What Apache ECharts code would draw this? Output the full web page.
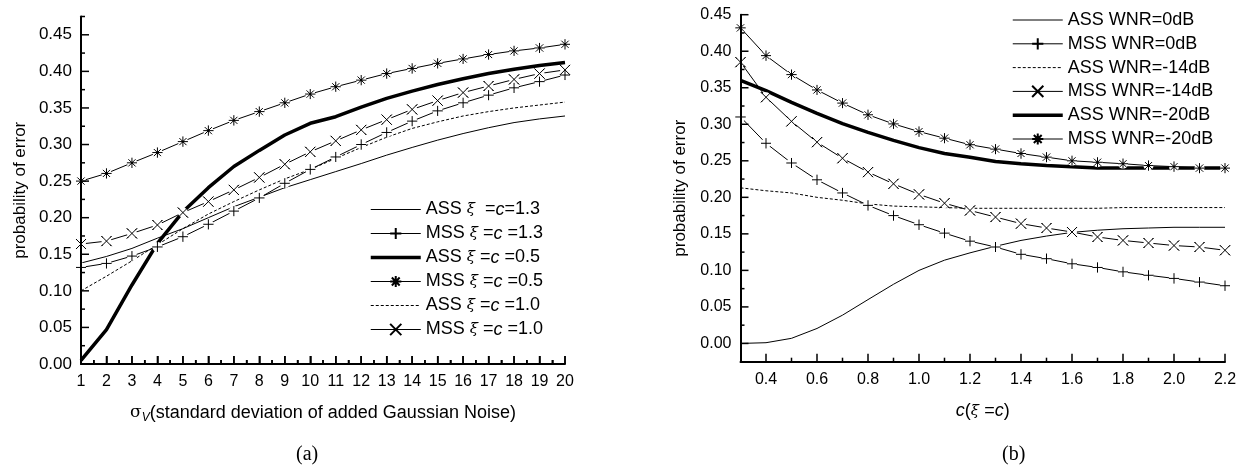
<!DOCTYPE html>
<html><head><meta charset="utf-8">
<script src="https://cdn.jsdelivr.net/npm/echarts@6/dist/echarts.min.js"></script>
<style>html,body{margin:0;padding:0;background:#fff}#c{width:1247px;height:472px}</style>
</head><body><div id="c"></div>
<script>
// ---------- data (a) ----------
const sigma = [1,2,3,4,5,6,7,8,9,10,11,12,13,14,15,16,17,18,19,20];
const assC13 = [0.138,0.147,0.158,0.172,0.185,0.200,0.215,0.228,0.241,0.252,0.263,0.274,0.2855,0.296,0.306,0.315,0.323,0.330,0.335,0.339];
const mssC13 = [0.132,0.1375,0.1475,0.160,0.174,0.191,0.209,0.227,0.247,0.266,0.283,0.300,0.3165,0.332,0.346,0.357,0.3675,0.3775,0.386,0.395];
const assC05 = [0.005,0.047,0.108,0.165,0.208,0.241,0.270,0.292,0.313,0.329,0.338,0.351,0.363,0.373,0.382,0.390,0.397,0.403,0.408,0.412];
const mssC05 = [0.250,0.2605,0.275,0.289,0.304,0.319,0.333,0.345,0.357,0.369,0.379,0.388,0.397,0.404,0.411,0.417,0.423,0.428,0.432,0.437];
const assC10 = [0.100,0.120,0.141,0.163,0.185,0.205,0.222,0.238,0.253,0.266,0.281,0.296,0.310,0.322,0.331,0.339,0.345,0.350,0.354,0.358];
const mssC10 = [0.164,0.168,0.1785,0.190,0.207,0.222,0.238,0.255,0.273,0.290,0.305,0.320,0.334,0.348,0.360,0.371,0.380,0.389,0.397,0.402];
const legendA = [
  '{n|ASS }{g|ξ}{n|  =}{i|c}{n|=1.3}',
  '{n|MSS }{g|ξ}{n| =}{i|c}{n| =1.3}',
  '{n|ASS }{g|ξ}{n| =}{i|c}{n| =0.5}',
  '{n|MSS }{g|ξ}{n| =}{i|c}{n| =0.5}',
  '{n|ASS }{g|ξ}{n| =}{i|c}{n| =1.0}',
  '{n|MSS }{g|ξ}{n| =}{i|c}{n| =1.0}'
];
const xTicksA = [1,2,3,4,5,6,7,8,9,10,11,12,13,14,15,16,17,18,19,20];
const xMinorA = [1.5,2.5,3.5,4.5,5.5,6.5,7.5,8.5,9.5,10.5,11.5,12.5,13.5,14.5,15.5,16.5,17.5,18.5,19.5];
const yTicksA = [0,0.05,0.10,0.15,0.20,0.25,0.30,0.35,0.40,0.45];
const yMinorA = [0.025,0.075,0.125,0.175,0.225,0.275,0.325,0.375,0.425,0.475];

// ---------- data (b) ----------
const cVal = [0.3,0.4,0.5,0.6,0.7,0.8,0.9,1.0,1.1,1.2,1.3,1.4,1.5,1.6,1.7,1.8,1.9,2.0,2.1,2.2];
const ass0  = [0.000,0.001,0.007,0.0205,0.0387,0.060,0.081,0.100,0.114,0.124,0.133,0.141,0.147,0.152,0.155,0.157,0.158,0.159,0.159,0.159];
const mss0  = [0.310,0.274,0.247,0.224,0.206,0.189,0.175,0.1625,0.151,0.140,0.132,0.122,0.116,0.109,0.104,0.098,0.0933,0.089,0.084,0.079];
const ass14 = [0.213,0.209,0.206,0.200,0.196,0.191,0.188,0.187,0.186,0.185,0.185,0.185,0.185,0.185,0.185,0.186,0.186,0.186,0.186,0.186];
const mss14 = [0.385,0.337,0.304,0.2755,0.2535,0.2345,0.2185,0.204,0.192,0.182,0.173,0.164,0.158,0.1525,0.1457,0.141,0.1375,0.134,0.132,0.1275];
const ass20 = [0.360,0.346,0.330,0.315,0.301,0.289,0.278,0.268,0.260,0.255,0.249,0.246,0.2435,0.242,0.240,0.240,0.240,0.240,0.240,0.240];
const mss20 = [0.432,0.394,0.368,0.347,0.329,0.313,0.3005,0.290,0.281,0.272,0.266,0.260,0.255,0.250,0.248,0.246,0.2435,0.242,0.240,0.240];
const legendB = ['ASS WNR=0dB','MSS WNR=0dB','ASS WNR=-14dB','MSS WNR=-14dB','ASS WNR=-20dB','MSS WNR=-20dB'];
const xTicksB = [0.4,0.6,0.8,1.0,1.2,1.4,1.6,1.8,2.0,2.2];
const xMinorB = [0.5,0.7,0.9,1.1,1.3,1.5,1.7,1.9,2.1];
const yTicksB = [0,0.05,0.10,0.15,0.20,0.25,0.30,0.35,0.40,0.45];
const yMinorB = [0.025,0.075,0.125,0.175,0.225,0.275,0.325,0.375,0.425];

// ---------- helpers ----------
const FONT = 'Liberation Sans, Arial, sans-serif';
const PLUS = 'path://M5,0L5,10M0,5L10,5';
const CROSS = 'path://M0,0L10,10M10,0L0,10';
const STAR = 'path://M5,0L5,10M0,5L10,5M1.5,1.5L8.5,8.5M8.5,1.5L1.5,8.5M4.4,4.4L5.6,4.4L5.6,5.6L4.4,5.6Z';
const zip = (xs, ys) => xs.map((x, i) => [x, ys[i]]);

const series = [];
const legendItems = [[], []];
function addCurve(name, xs, ys, xi, yi, kind, glyph, li) {
  const data = zip(xs, ys);
  const s = {
    name, type: 'line', xAxisIndex: xi, yAxisIndex: yi, data,
    animation: false, z: 2, smooth: false,
    lineStyle: { color: '#000', width: 1, type: 'solid' },
    itemStyle: { color: 'rgba(0,0,0,0)', borderColor: 'rgba(0,0,0,0)', borderWidth: 1 },
    symbol: 'circle', symbolSize: 1, showSymbol: false
  };
  if (kind === 'thick') s.lineStyle.width = 3.5;
  if (kind === 'dash') s.lineStyle.type = [3, 2];
  legendItems[li].push({ name, lineStyle: { color: '#000', width: s.lineStyle.width, type: s.lineStyle.type } });
  if (glyph) {
    s.symbol = glyph; s.showSymbol = true; s.symbolSize = 10;
    s.itemStyle = { color: 'rgba(0,0,0,0)', borderColor: '#000', borderWidth: 1 };
    series.push(s);
    series.push({ name: name + '_gap', type: 'scatter', xAxisIndex: xi, yAxisIndex: yi, data,
      symbol: 'circle', symbolSize: 10, itemStyle: { color: '#fff', opacity: 1 }, z: 3, silent: true, animation: false });
    series.push({ name: name + '_mk', type: 'scatter', xAxisIndex: xi, yAxisIndex: yi, data,
      symbol: glyph, symbolSize: 10,
      itemStyle: { color: 'rgba(0,0,0,0)', borderColor: '#000', borderWidth: 1, opacity: 1 }, z: 4, silent: true, animation: false });
  } else {
    series.push(s);
  }
}
addCurve('A0', sigma, assC13, 0, 0, 'thin', null, 0);
addCurve('A1', sigma, mssC13, 0, 0, 'thin', PLUS, 0);
addCurve('A2', sigma, assC05, 0, 0, 'thick', null, 0);
addCurve('A3', sigma, mssC05, 0, 0, 'thin', STAR, 0);
addCurve('A4', sigma, assC10, 0, 0, 'dash', null, 0);
addCurve('A5', sigma, mssC10, 0, 0, 'thin', CROSS, 0);
addCurve('B0', cVal, ass0, 1, 1, 'thin', null, 1);
addCurve('B1', cVal, mss0, 1, 1, 'thin', PLUS, 1);
addCurve('B2', cVal, ass14, 1, 1, 'dash', null, 1);
addCurve('B3', cVal, mss14, 1, 1, 'thin', CROSS, 1);
addCurve('B4', cVal, ass20, 1, 1, 'thick', null, 1);
addCurve('B5', cVal, mss20, 1, 1, 'thin', STAR, 1);

const axLine = () => ({ show: true, onZero: false, lineStyle: { color: '#000', width: 2 } });
const lab = (fs, m) => ({ show: true, color: '#000', fontFamily: FONT, fontSize: fs, margin: m });
const rich = {
  n: { fontFamily: FONT, fontSize: 18, color: '#000' },
  i: { fontFamily: FONT, fontSize: 18, fontStyle: 'italic', color: '#000' },
  g: { fontFamily: 'DejaVu Serif', fontSize: 15, fontStyle: 'italic', color: '#000' },
  s: { fontFamily: 'DejaVu Serif', fontSize: 17, color: '#000' },
  sub: { fontFamily: FONT, fontSize: 12, fontStyle: 'italic', color: '#000', padding: [10, 0, 0, 0] }
};
const panelLabels = [
  { type: 'text', left: 296, top: 445, style: { text: '(a)', font: '20px "Liberation Serif"', fill: '#000' } },
  { type: 'text', left: 1002, top: 445, style: { text: '(b)', font: '20px "Liberation Serif"', fill: '#000' } }
];

const option = {
  backgroundColor: '#fff',
  animation: false,
  grid: [
    { left: 81, top: 16.5, width: 484, height: 347.5 },
    { left: 740.5, top: 14.7, width: 484.5, height: 347 }
  ],
  xAxis: [
    { gridIndex: 0, type: 'value', min: 1, max: 20, interval: 1, position: 'bottom', z: 10,
      axisLine: axLine(), axisTick: { show: true, inside: true, length: 8, lineStyle: { color: '#000', width: 1.5 } },
      minorTick: { show: true, splitNumber: 2, length: 4, lineStyle: { color: '#000', width: 1.5 } },
      splitLine: { show: false }, minorSplitLine: { show: false },
      axisLabel: lab(16, 10),
      name: '{s|σ}{sub|V}{n|(standard deviation of added Gaussian Noise)}',
      nameLocation: 'middle', nameGap: 38, nameTextStyle: { rich } },
    { gridIndex: 1, type: 'value', min: 0.3, max: 2.2, interval: 0.1, position: 'bottom', z: 10,
      axisLine: axLine(), axisTick: { show: false },
      splitLine: { show: false },
      axisLabel: Object.assign(lab(16, 10), { customValues: xTicksB, formatter: v => v.toFixed(1) }),
      name: '{i|c}{n|(}{g|ξ}{n| =}{i|c}{n|)}',
      nameLocation: 'middle', nameGap: 40, nameTextStyle: { rich } }
  ],
  yAxis: [
    { gridIndex: 0, type: 'value', min: 0, max: 0.475, interval: 0.025, position: 'left', z: 10,
      axisLine: axLine(), axisTick: { show: false },
      splitLine: { show: false },
      axisLabel: Object.assign(lab(17, 9), { customValues: yTicksA, formatter: v => v.toFixed(2) }),
      name: 'probability of error', nameLocation: 'middle', nameGap: 52,
      nameTextStyle: { color: '#000', fontFamily: FONT, fontSize: 17 } },
    { gridIndex: 1, type: 'value', min: -0.025, max: 0.45, interval: 0.025, position: 'left', z: 10,
      axisLine: axLine(), axisTick: { show: false },
      splitLine: { show: false },
      axisLabel: Object.assign(lab(16, 9), { customValues: yTicksB, formatter: v => v.toFixed(2) }),
      name: 'probability of error', nameLocation: 'middle', nameGap: 52,
      nameTextStyle: { color: '#000', fontFamily: FONT, fontSize: 17 } }
  ],
  legend: [
    { data: legendItems[0], orient: 'vertical', left: 364, top: 194.5,
      itemWidth: 50, itemHeight: 14, itemGap: 4,
      formatter: n => legendA[+n[1]],
      textStyle: { rich, lineHeight: 20, fontSize: 18 } },
    { data: legendItems[1], orient: 'vertical', left: 1006, top: 5,
      itemWidth: 50, itemHeight: 14, itemGap: 3.8,
      formatter: n => legendB[+n[1]],
      textStyle: { color: '#000', fontFamily: FONT, fontSize: 18, lineHeight: 20 } }
  ],
  graphic: panelLabels,
  series
};
const chart = echarts.init(document.getElementById('c'), null, { renderer: 'canvas' });
chart.setOption(option);

// inside ticks, positioned through the chart's own axis scales
const tickEls = [];
function addTicks(gridIndex, dir, values, fixed, len) {
  values.forEach(v => {
    const p = chart.convertToPixel({ gridIndex }, dir === 'x' ? [v, fixed] : [fixed, v]);
    if (!p) return;
    const shape = dir === 'x'
      ? { x1: p[0], y1: p[1], x2: p[0], y2: p[1] - len }
      : { x1: p[0], y1: p[1], x2: p[0] + len, y2: p[1] };
    tickEls.push({ type: 'line', shape, style: { stroke: '#000', lineWidth: 1.5 }, z: 100, silent: true });
  });
}
addTicks(0, 'x', xTicksA, 0, 8);
addTicks(0, 'x', xMinorA, 0, 4);
addTicks(0, 'y', yTicksA, 1, 8);
addTicks(0, 'y', yMinorA, 1, 4);
addTicks(1, 'x', xTicksB, -0.025, 8);
addTicks(1, 'x', xMinorB, -0.025, 4);
addTicks(1, 'y', yTicksB, 0.3, 8);
addTicks(1, 'y', yMinorB, 0.3, 4);
chart.setOption({ graphic: panelLabels.concat(tickEls) });
</script>
</body></html>
